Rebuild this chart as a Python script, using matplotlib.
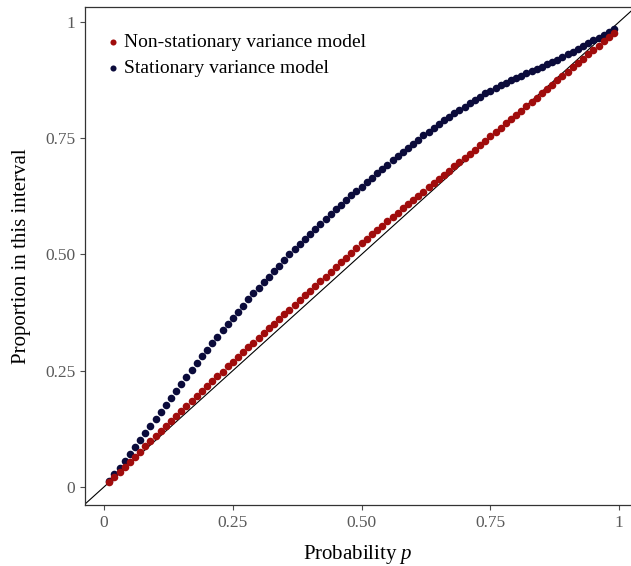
import matplotlib.pyplot as plt
import numpy as np

# Nominal probability of each interval
prob = np.round(np.arange(1, 100) / 100, 2)

# Observed coverage, non-stationary variance model
cov_nonstat = [
    0.010, 0.021, 0.032, 0.043, 0.054, 0.065, 0.076, 0.087, 0.098, 0.109,
    0.120, 0.130, 0.141, 0.152, 0.163, 0.174, 0.184, 0.195, 0.206, 0.216,
    0.227, 0.238, 0.248, 0.259, 0.269, 0.280, 0.290, 0.300, 0.310, 0.320,
    0.331, 0.341, 0.351, 0.361, 0.371, 0.381, 0.392, 0.402, 0.412, 0.422,
    0.432, 0.442, 0.452, 0.463, 0.473, 0.483, 0.493, 0.503, 0.514, 0.524,
    0.534, 0.544, 0.553, 0.562, 0.572, 0.581, 0.590, 0.599, 0.608, 0.617,
    0.626, 0.635, 0.644, 0.653, 0.662, 0.671, 0.680, 0.689, 0.698, 0.707,
    0.716, 0.725, 0.735, 0.744, 0.754, 0.763, 0.772, 0.782, 0.791, 0.800,
    0.809, 0.819, 0.828, 0.837, 0.847, 0.856, 0.865, 0.875, 0.884, 0.893,
    0.902, 0.911, 0.920, 0.930, 0.939, 0.948, 0.958, 0.967, 0.977,
]

# Observed coverage, stationary variance model
cov_stat = [
    0.013, 0.027, 0.041, 0.056, 0.071, 0.086, 0.101, 0.116, 0.131, 0.146,
    0.162, 0.177, 0.192, 0.207, 0.222, 0.237, 0.252, 0.266, 0.281, 0.295,
    0.309, 0.323, 0.337, 0.351, 0.364, 0.377, 0.390, 0.403, 0.416, 0.428,
    0.440, 0.452, 0.464, 0.476, 0.488, 0.500, 0.511, 0.522, 0.533, 0.544,
    0.555, 0.566, 0.576, 0.587, 0.597, 0.607, 0.617, 0.627, 0.636, 0.645,
    0.655, 0.664, 0.674, 0.683, 0.692, 0.702, 0.711, 0.720, 0.729, 0.738,
    0.747, 0.756, 0.764, 0.772, 0.780, 0.788, 0.796, 0.804, 0.811, 0.818,
    0.825, 0.832, 0.839, 0.846, 0.852, 0.858, 0.864, 0.869, 0.874, 0.879,
    0.884, 0.889, 0.894, 0.899, 0.904, 0.909, 0.913, 0.918, 0.924, 0.930,
    0.936, 0.942, 0.948, 0.954, 0.960, 0.966, 0.972, 0.978, 0.985,
]

ticks = [0, 0.25, 0.5, 0.75, 1]
tick_labels = ["0", "0.25", "0.50", "0.75", "1"]

plt.rcParams['font.family'] = ['Liberation Serif', 'DejaVu Serif']
plt.rcParams['mathtext.fontset'] = 'custom'
plt.rcParams['mathtext.it'] = 'Liberation Serif:italic'

fig = plt.figure(figsize=(6.31, 5.66), dpi=100)
ax = fig.add_axes([85 / 631, 61 / 566, 1 - 85 / 631, 498 / 566])

# reference line y = x
ax.axline((0, 0), (1, 1), color='black', linewidth=0.8, zorder=1)

ax.scatter(prob, cov_stat, s=30, color='#0b0b3b', linewidths=0,
           label='Stationary variance model', zorder=2)
ax.scatter(prob, cov_nonstat, s=30, color='#a00c0c', linewidths=0,
           label='Non-stationary variance model', zorder=3)

ax.set_xlim(-0.037, 1.023)
ax.set_ylim(-0.039, 1.032)
ax.set_xticks(ticks)
ax.set_xticklabels(tick_labels)
ax.set_yticks(ticks)
ax.set_yticklabels(tick_labels)
ax.tick_params(colors='#4d4d4d', labelsize=12.5, length=3.5, width=0.8,
               labelcolor='#5a5a5a')

for side in ['left', 'bottom', 'top']:
    ax.spines[side].set_color('#333333')
    ax.spines[side].set_linewidth(0.9)
ax.spines['right'].set_visible(False)

ax.set_xlabel('Probability $p$', fontsize=15, labelpad=9)
ax.set_ylabel('Proportion in this interval', fontsize=15, labelpad=10)

# legend with non-stationary entry first
handles, labels = ax.get_legend_handles_labels()
ax.legend(handles[::-1], labels[::-1], loc='upper left', frameon=False,
          fontsize=14, handletextpad=0.25, handlelength=0.6, markerscale=0.8,
          borderaxespad=0, borderpad=0,
          bbox_to_anchor=(22 / 546, 1 - 26 / 498), labelspacing=0.45)

fig.savefig('out.png', dpi=100)
